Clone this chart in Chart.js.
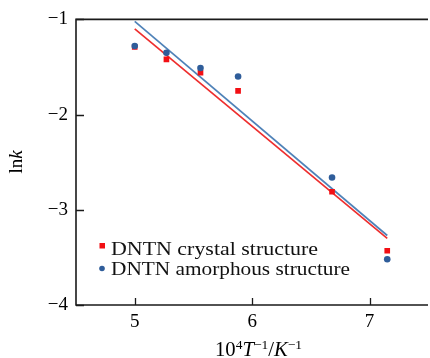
<!DOCTYPE html>
<html>
<head>
<meta charset="utf-8">
<script src="https://cdn.jsdelivr.net/npm/chart.js@4/dist/chart.umd.min.js"></script>
<style>
  html, body { margin: 0; padding: 0; background: #fff; }
  #wrap { width: 430px; height: 358px; }
</style>
</head>
<body>
<div id="wrap"><canvas id="chart" width="430" height="358"></canvas></div>
<script>
// 10^4 / T values
const tempInv = [5.00, 5.27, 5.56, 5.88, 6.68, 7.15];
const crystalLnk = [-1.29, -1.42, -1.56, -1.75, -2.81, -3.43];
const amorphousLnk = [-1.28, -1.35, -1.51, -1.60, -2.66, -3.52];

// fitted lines (end points)
const fitX = [5.00, 7.15];
const crystalFit = [-1.10, -3.30];
const amorphousFit = [-1.02, -3.27];

const xTicks = [5, 6, 7];
const yTicks = [-1, -2, -3, -4];
const seriesNames = ['DNTN crystal structure', 'DNTN amorphous structure'];

const RED = '#f20f14';
const RED_LINE = '#ee2e2e';
const BLUE = '#2f5d9a';
const BLUE_LINE = '#4f82b8';
const FONT = "'Liberation Serif', 'Times New Roman', serif";

const toPoints = (xs, ys) => xs.map((x, i) => ({ x: x, y: ys[i] }));

// draws text squeezed/stretched to a given width
function fitText(ctx, text, x, y, width) {
  const w = ctx.measureText(text).width;
  ctx.save();
  ctx.translate(x, y);
  ctx.scale(width / w, 1);
  ctx.fillText(text, 0, 0);
  ctx.restore();
}

// frame, inward ticks, axis titles and legend
const decorations = {
  id: 'decorations',
  afterDraw(chart) {
    const ctx = chart.ctx;
    const a = chart.chartArea;
    const xs = chart.scales.x, ys = chart.scales.y;
    ctx.save();
    ctx.strokeStyle = '#1a1a1a';
    ctx.lineWidth = 1.6;
    ctx.beginPath();
    ctx.moveTo(a.right + 2, a.top);
    ctx.lineTo(a.left, a.top);
    ctx.lineTo(a.left, a.bottom);
    ctx.lineTo(a.right + 2, a.bottom);
    ctx.stroke();

    ctx.lineWidth = 1.3;
    ctx.beginPath();
    xTicks.forEach(v => {
      const px = Math.round(xs.getPixelForValue(v)) + 0.5;
      ctx.moveTo(px, a.bottom);
      ctx.lineTo(px, a.bottom - 7);
    });
    yTicks.forEach(v => {
      const py = Math.round(ys.getPixelForValue(v)) + 0.5;
      ctx.moveTo(a.left, py);
      ctx.lineTo(a.left + 8, py);
    });
    ctx.stroke();

    // x title: 10^4 T^-1 / K^-1
    ctx.fillStyle = '#000';
    ctx.textBaseline = 'alphabetic';
    ctx.textAlign = 'left';
    const big = '20px ' + FONT, small = '13px ' + FONT, it = 'italic 20px ' + FONT;
    const parts = [
      { t: '10', f: big, dy: 0 },
      { t: '4', f: small, dy: -7 },
      { t: 'T', f: it, dy: 0 },
      { t: '\u2212', f: small, dy: -7 },
      { t: '1', f: small, dy: -7 },
      { t: '/', f: big, dy: 0 },
      { t: 'K', f: it, dy: 0 },
      { t: '\u2212', f: small, dy: -7 },
      { t: '1', f: small, dy: -7 }
    ];
    let total = 0;
    parts.forEach(p => { ctx.font = p.f; p.w = ctx.measureText(p.t).width; total += p.w; });
    const sxTitle = 87 / total;
    let x = 215;
    const base = 356;
    parts.forEach(p => {
      ctx.font = p.f;
      ctx.save();
      ctx.translate(x, base + p.dy);
      ctx.scale(sxTitle, 1);
      ctx.fillText(p.t, 0, 0);
      ctx.restore();
      x += p.w * sxTitle;
    });

    // y title: ln k
    ctx.save();
    ctx.translate(17, 162);
    ctx.rotate(-Math.PI / 2);
    ctx.textBaseline = 'middle';
    ctx.font = '19px ' + FONT;
    const w1 = ctx.measureText('ln').width;
    ctx.font = 'italic 19px ' + FONT;
    const w2 = ctx.measureText('k').width;
    const sx = -(w1 + w2) / 2;
    ctx.font = '19px ' + FONT;
    ctx.fillText('ln', sx, 0);
    ctx.font = 'italic 19px ' + FONT;
    ctx.fillText('k', sx + w1, 0);
    ctx.restore();

    // legend
    ctx.fillStyle = RED;
    ctx.fillRect(99.5, 243, 5.5, 5.5);
    ctx.fillStyle = BLUE;
    ctx.beginPath();
    ctx.arc(102, 268.5, 2.8, 0, Math.PI * 2);
    ctx.fill();
    ctx.font = '19px ' + FONT;
    ctx.textBaseline = 'alphabetic';
    ctx.fillStyle = '#111';
    fitText(ctx, seriesNames[0], 111, 254.5, 207);
    fitText(ctx, seriesNames[1], 111, 274.5, 239);
    ctx.restore();
  }
};

new Chart(document.getElementById('chart'), {
  type: 'scatter',
  data: {
    datasets: [
      {
        label: seriesNames[1],
        data: toPoints(tempInv, amorphousLnk),
        backgroundColor: BLUE,
        borderColor: BLUE,
        pointStyle: 'circle',
        pointRadius: 3.3,
        borderWidth: 0,
        order: 0
      },
      {
        label: seriesNames[0],
        data: toPoints(tempInv, crystalLnk),
        backgroundColor: RED,
        borderColor: RED,
        pointStyle: 'rect',
        pointRadius: 4,
        borderWidth: 0,
        order: 1
      },
      {
        label: 'amorphous fit',
        data: toPoints(fitX, amorphousFit),
        showLine: true,
        borderColor: BLUE_LINE,
        borderWidth: 1.7,
        pointRadius: 0,
        order: 2
      },
      {
        label: 'crystal fit',
        data: toPoints(fitX, crystalFit),
        showLine: true,
        borderColor: RED_LINE,
        borderWidth: 1.7,
        pointRadius: 0,
        order: 3
      }
    ]
  },
  options: {
    responsive: false,
    animation: false,
    layout: { padding: { top: 18, left: 0, right: 0, bottom: 0 } },
    plugins: {
      legend: { display: false },
      tooltip: { enabled: false }
    },
    scales: {
      x: {
        type: 'linear',
        min: 4.5,
        max: 7.48,
        afterBuildTicks: s => { s.ticks = xTicks.map(v => ({ value: v })); },
        afterFit: s => { s.height = 53; },
        grid: { display: false, drawTicks: false },
        border: { display: false },
        ticks: {
          padding: 6,
          color: '#000',
          font: { family: FONT, size: 19 },
          callback: v => String(v)
        }
      },
      y: {
        type: 'linear',
        min: -4,
        max: -1,
        afterBuildTicks: s => { s.ticks = yTicks.map(v => ({ value: v })); },
        afterFit: s => { s.width = 76; },
        grid: { display: false, drawTicks: false },
        border: { display: false },
        ticks: {
          padding: 8,
          color: '#000',
          font: { family: FONT, size: 19 },
          callback: v => '\u2212' + Math.abs(v)
        }
      }
    }
  },
  plugins: [decorations]
});
</script>
</body>
</html>
